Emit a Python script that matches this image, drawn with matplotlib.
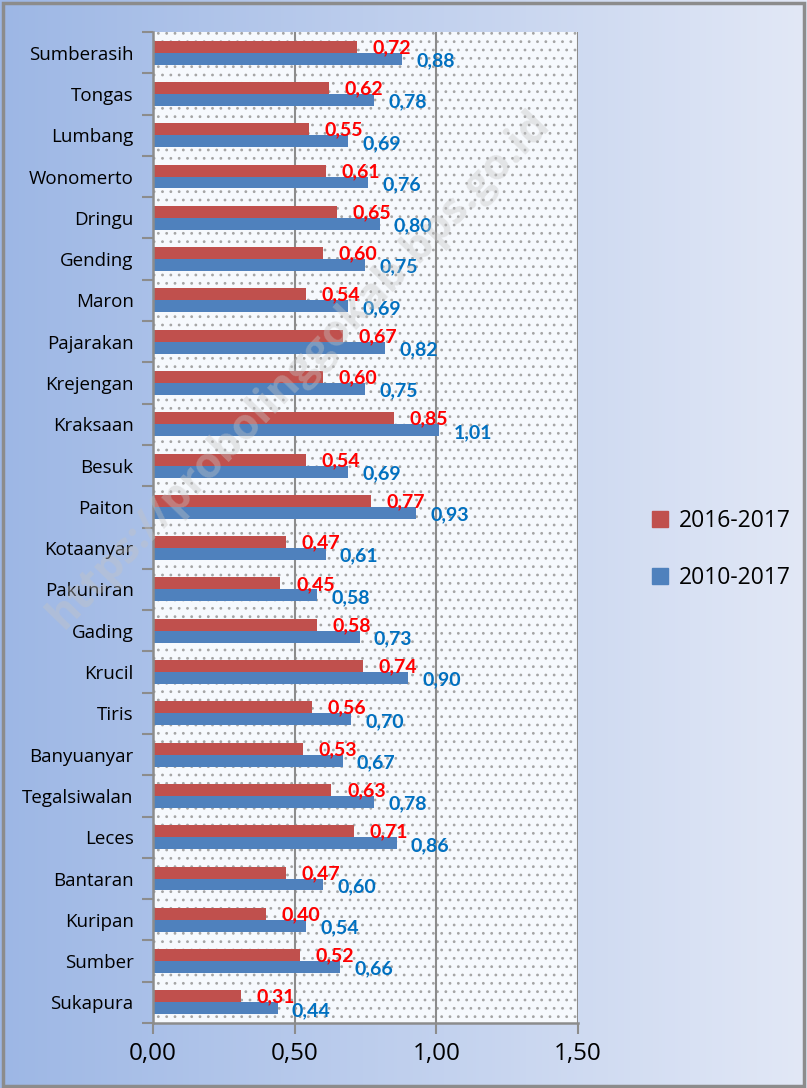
import matplotlib
matplotlib.use("Agg")
import matplotlib.pyplot as plt
import numpy as np
from matplotlib.patches import Rectangle, Patch

# data, top to bottom as in the chart
kecamatan = ["Sumberasih", "Tongas", "Lumbang", "Wonomerto", "Dringu", "Gending",
             "Maron", "Pajarakan", "Krejengan", "Kraksaan", "Besuk", "Paiton",
             "Kotaanyar", "Pakuniran", "Gading", "Krucil", "Tiris", "Banyuanyar",
             "Tegalsiwalan", "Leces", "Bantaran", "Kuripan", "Sumber", "Sukapura"]
v_2016_2017 = [0.72, 0.62, 0.55, 0.61, 0.65, 0.60, 0.54, 0.67, 0.60, 0.85, 0.54, 0.77,
               0.47, 0.45, 0.58, 0.74, 0.56, 0.53, 0.63, 0.71, 0.47, 0.40, 0.52, 0.31]
v_2010_2017 = [0.88, 0.78, 0.69, 0.76, 0.80, 0.75, 0.69, 0.82, 0.75, 1.01, 0.69, 0.93,
               0.61, 0.58, 0.73, 0.90, 0.70, 0.67, 0.78, 0.86, 0.60, 0.54, 0.66, 0.44]
xticks = [0.0, 0.5, 1.0, 1.5]

RED = "#C0504D"
BLUE = "#4F81BD"

plt.rcParams["hatch.color"] = "#a5a5a5"
plt.rcParams["hatch.linewidth"] = 0.8

fig = plt.figure(figsize=(8.07, 10.88), dpi=100)

# gradient background
bg = fig.add_axes([0, 0, 1, 1], zorder=-10)
grad = np.linspace(0, 1, 256).reshape(1, -1)
c0 = np.array([157, 183, 229]) / 255
c1 = np.array([226, 232, 246]) / 255
img = c0[None, None, :] * (1 - grad[..., None]) + c1[None, None, :] * grad[..., None]
bg.imshow(img, aspect="auto", extent=[0, 1, 0, 1])
bg.add_patch(Rectangle((0.004, 0.002), 0.992, 0.995, fill=False, ec="#8c8c8c", lw=2.5,
                       transform=bg.transAxes))
bg.axis("off")

ax = fig.add_axes([0.1896, 0.0597, 0.5266, 0.9109])
ax.set_facecolor("#f6f9fd")
ax.add_patch(Rectangle((0, 0), 1, 1, transform=ax.transAxes, facecolor="none",
                       hatch="..", edgecolor="#a5a5a5", lw=0, zorder=0))

n = len(kecamatan)
y = np.arange(n)
h = 0.29
ax.barh(y - h / 2, v_2016_2017, height=h, color=RED, zorder=3)
ax.barh(y + h / 2, v_2010_2017, height=h, color=BLUE, zorder=3)

for yi, a, b in zip(y, v_2016_2017, v_2010_2017):
    ax.text(a + 0.055, yi - h / 2 + 0.02, f"{a:.2f}".replace(".", ","), color="#FF0000",
            fontsize=14, fontweight="bold", family="Lato", va="center", ha="left", zorder=4)
    ax.text(b + 0.05, yi + h / 2 + 0.05, f"{b:.2f}".replace(".", ","), color="#0070C0",
            fontsize=14, fontweight="bold", family="Lato", va="center", ha="left", zorder=4)

ax.set_xlim(0, 1.5)
ax.set_ylim(n - 0.5, -0.5)
ax.set_xticks(xticks)
ax.set_xticklabels([f"{t:.2f}".replace(".", ",") for t in xticks], fontsize=17.5,
                   family="Open Sans")
ax.set_yticks(y)
ax.set_yticklabels(kecamatan, fontsize=13.5, family="Open Sans")
ax.set_yticks(np.arange(n + 1) - 0.5, minor=True)
ax.tick_params(axis="y", which="major", length=0, pad=14)
ax.tick_params(axis="y", which="minor", length=8, width=1.5, color="#8c8c8c")
ax.tick_params(axis="x", length=8, width=1.5, color="#8c8c8c", pad=6)

for xv in xticks[1:]:
    ax.axvline(xv, color="#8c8c8c", lw=1.5, zorder=2)

for s in ["top", "right"]:
    ax.spines[s].set_visible(False)
for s in ["left", "bottom"]:
    ax.spines[s].set_color("#8c8c8c")
    ax.spines[s].set_linewidth(1.8)
    ax.spines[s].set_zorder(5)

handles = [Patch(color=RED, label="2016-2017"), Patch(color=BLUE, label="2010-2017")]
fig.legend(handles=handles, loc="center left", bbox_to_anchor=(0.782, 0.495),
           frameon=False, prop={"family": "Open Sans", "size": 16.5},
           handlelength=0.7, handleheight=0.7, handletextpad=0.5, labelspacing=1.45)

# watermark
fig.text(0.37, 0.66, "https://probolinggokab.bps.go.id", rotation=46, fontsize=31,
         fontweight="bold", color="#c4c4c4", alpha=0.4, ha="center", va="center",
         family="Open Sans", zorder=20)

fig.savefig("out.png", dpi=100)
